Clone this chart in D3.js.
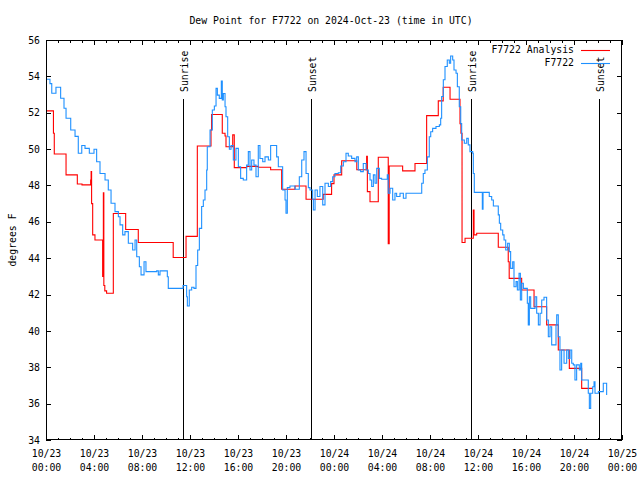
<!DOCTYPE html>
<html>
<head>
<meta charset="utf-8">
<script src="https://cdn.jsdelivr.net/npm/d3@7"></script>
<style>
html,body{margin:0;padding:0;background:#fff;}
svg{display:block;}
text{font-family:"DejaVu Sans Mono","Liberation Mono",monospace;font-size:9.8px;fill:#000;}
</style>
</head>
<body>
<svg id="chart" width="640" height="480"></svg>
<script>
// ---------- DATA ----------
const titleText = "Dew Point for F7722 on 2024-Oct-23 (time in UTC)";
const yLabel = "degrees F";
const seriesNames = ["F7722 Analysis", "F7722"];
const seriesColors = ["#ff0000", "#1e90ff"];
const yTicks = [34, 36, 38, 40, 42, 44, 46, 48, 50, 52, 54, 56];

// hours since 2024-10-23 00:00 UTC
const anaHours = [0.0, 0.62, 0.69, 1.67, 2.61, 3.0, 3.72, 3.76, 3.8, 3.89, 4.08, 4.72, 4.78, 4.82, 4.9, 5.05, 5.61, 6.64, 7.69, 10.6, 11.67, 12.61, 13.75, 13.8, 14.69, 14.92, 15.0, 15.56, 15.69, 16.72, 17.69, 18.72, 19.64, 20.75, 21.67, 23.1, 23.8, 24.0, 24.64, 25.9, 26.72, 26.78, 27.0, 27.69, 28.52, 28.6, 29.72, 30.75, 31.72, 32.69, 33.1, 33.67, 34.5, 34.58, 34.67, 34.92, 35.61, 35.67, 35.89, 37.69, 38.52, 38.6, 39.64, 40.67, 41.72, 42.69, 43.61, 44.64, 45.56];
const anaDew   = [52.1, 50.87, 49.73, 48.58, 48.08, 48.03, 48.3, 48.76, 47.0, 45.28, 45.0, 43.0, 47.6, 42.5, 42.2, 42.07, 46.46, 45.58, 44.86, 44.04, 45.2, 50.17, 51.05, 51.9, 50.87, 50.72, 50.13, 50.78, 48.98, 49.05, 49.0, 48.86, 47.79, 47.97, 47.24, 47.51, 48.1, 48.58, 49.36, 48.86, 49.6, 47.66, 47.1, 49.55, 44.8, 49.07, 48.8, 49.21, 51.84, 52.65, 53.4, 52.74, 51.4, 50.87, 44.86, 45.1, 46.65, 45.28, 45.37, 44.6, 43.8, 42.89, 42.25, 41.33, 40.33, 38.95, 37.94, 36.84, 36.84];

const obsHours = [0.0, 0.33, 0.48, 0.83, 1.22, 1.5, 1.67, 2.06, 2.42, 2.69, 2.98, 3.25, 3.61, 4.0, 4.22, 4.5, 4.92, 5.19, 5.42, 5.75, 6.03, 6.17, 6.39, 6.58, 6.86, 7.22, 7.42, 7.56, 7.78, 7.92, 8.17, 8.33, 9.22, 9.36, 9.5, 10.11, 10.19, 11.31, 11.42, 11.72, 11.78, 11.94, 12.14, 12.33, 12.5, 12.64, 12.78, 12.97, 13.11, 13.25, 13.39, 13.44, 13.67, 13.86, 14.03, 14.17, 14.28, 14.44, 14.61, 14.69, 14.78, 14.92, 15.0, 15.14, 15.28, 15.42, 15.61, 15.83, 16.03, 16.22, 16.44, 16.72, 16.86, 17.0, 17.14, 17.33, 17.5, 17.69, 17.83, 18.06, 18.25, 18.53, 18.72, 19.22, 19.36, 19.72, 19.92, 20.0, 20.11, 20.33, 20.75, 21.11, 21.31, 21.5, 21.67, 21.86, 22.0, 22.22, 22.28, 22.42, 22.61, 22.83, 23.06, 23.25, 23.53, 23.72, 23.89, 24.08, 24.36, 24.56, 24.78, 25.0, 25.19, 25.47, 25.75, 25.89, 26.03, 26.22, 26.44, 26.67, 26.86, 27.0, 27.14, 27.28, 27.42, 27.56, 27.78, 27.97, 28.44, 28.52, 28.67, 28.89, 29.08, 29.22, 29.5, 29.78, 30.0, 31.17, 31.31, 31.44, 31.58, 31.78, 31.94, 32.06, 32.22, 32.5, 32.78, 32.89, 32.97, 33.11, 33.25, 33.44, 33.61, 33.72, 33.89, 34.0, 34.17, 34.28, 34.44, 34.56, 34.64, 34.86, 35.06, 35.19, 35.33, 35.56, 35.61, 35.69, 36.33, 36.36, 36.42, 36.86, 36.94, 37.14, 37.28, 37.56, 37.69, 37.78, 37.89, 38.06, 38.17, 38.31, 38.47, 38.61, 38.72, 38.89, 39.0, 39.17, 39.28, 39.42, 39.53, 39.64, 39.78, 40.11, 40.19, 40.28, 40.39, 40.75, 40.89, 41.03, 41.17, 41.31, 41.5, 41.72, 41.86, 42.0, 42.14, 42.5, 42.56, 42.69, 42.83, 42.97, 43.17, 43.39, 43.53, 43.67, 43.81, 43.94, 44.08, 44.22, 44.44, 44.56, 44.64, 45.19, 45.28, 45.39, 45.56, 45.67, 45.75, 46.03, 46.44, 46.72];
const obsDew   = [53.84, 53.6, 53.07, 53.4, 52.8, 52.25, 51.7, 51.05, 50.7, 49.77, 50.2, 50.04, 49.77, 49.99, 49.3, 48.66, 48.3, 47.75, 47.02, 46.56, 46.28, 45.83, 45.28, 45.46, 44.82, 44.45, 45.0, 44.08, 43.53, 43.08, 43.8, 43.26, 43.3, 43.08, 43.3, 42.98, 42.34, 42.34, 42.5, 41.88, 41.37, 42.25, 42.4, 42.34, 43.6, 44.45, 45.64, 46.84, 47.2, 47.75, 48.85, 50.13, 51.05, 52.15, 52.37, 53.34, 52.97, 52.79, 53.74, 52.7, 53.06, 52.33, 51.78, 50.68, 49.99, 50.2, 49.4, 50.04, 49.03, 48.39, 48.3, 49.12, 49.86, 48.85, 49.4, 49.12, 48.48, 50.2, 49.48, 49.3, 49.57, 49.4, 50.2, 49.57, 49.03, 47.75, 47.2, 46.47, 47.88, 47.97, 47.79, 48.48, 49.4, 49.86, 48.66, 47.88, 47.75, 47.24, 46.65, 47.75, 47.39, 47.94, 46.93, 48.12, 47.94, 48.21, 48.48, 48.66, 48.7, 49.07, 49.3, 49.77, 49.62, 49.49, 49.3, 49.57, 48.85, 48.76, 49.21, 48.85, 48.66, 48.3, 47.94, 48.58, 48.12, 48.94, 48.39, 48.34, 48.58, 47.57, 47.85, 47.2, 47.57, 47.39, 47.57, 47.3, 47.57, 47.57, 48.12, 48.66, 48.85, 49.57, 50.68, 50.95, 51.14, 51.24, 51.33, 51.7, 52.89, 53.81, 54.54, 54.9, 54.72, 55.12, 54.9, 54.35, 54.17, 53.43, 52.33, 51.4, 50.5, 50.32, 50.59, 50.23, 49.86, 49.77, 48.66, 47.62, 47.62, 46.69, 47.62, 47.62, 47.39, 47.2, 46.87, 46.87, 46.38, 45.92, 45.55, 45.28, 45.0, 44.45, 44.82, 44.36, 43.44, 43.8, 42.43, 42.71, 42.25, 43.17, 41.7, 42.62, 42.34, 41.52, 40.33, 41.88, 41.24, 41.88, 40.97, 40.33, 40.97, 41.7, 41.85, 40.6, 39.68, 40.23, 39.23, 40.33, 40.88, 39.68, 37.85, 38.95, 38.22, 38.95, 38.49, 38.95, 38.22, 38.13, 37.3, 38.13, 37.85, 38.22, 37.3, 36.57, 35.74, 36.57, 36.93, 37.2, 36.57, 36.66, 37.12, 36.48];

const sunHours = [11.44, 22.12, 35.44, 46.12];
const sunLabels = ["Sunrise", "Sunset", "Sunrise", "Sunset"];

// ---------- CHART ----------
const t0 = Date.UTC(2024, 9, 23, 0, 0);
const toDate = h => new Date(t0 + h * 3600e3);
const L = 46, R = 622, T = 40, B = 440;

const svg = d3.select("#chart");
const x = d3.scaleUtc().domain([toDate(0), toDate(48)]).range([L, R]);
const y = d3.scaleLinear().domain([34, 56]).range([B, T]);

svg.append("text").attr("x", 331).attr("y", 24).attr("text-anchor", "middle").text(titleText);

svg.append("text")
  .attr("transform", `translate(13,${(T + B) / 2}) rotate(-90)`)
  .attr("text-anchor", "middle").attr("dominant-baseline", "middle")
  .text(yLabel);

function styleAxis(g) {
  g.select(".domain").remove();
  g.selectAll(".tick line").attr("stroke", "#000").attr("shape-rendering", "crispEdges");
}

// minor x ticks (hourly)
svg.append("g").attr("transform", `translate(0,${B})`)
  .call(d3.axisBottom(x).ticks(d3.utcHour.every(1)).tickSize(-2.5).tickFormat(""))
  .call(styleAxis);
svg.append("g").attr("transform", `translate(0,${T})`)
  .call(d3.axisTop(x).ticks(d3.utcHour.every(1)).tickSize(-2.5).tickFormat(""))
  .call(styleAxis);
// major x ticks
const xb = svg.append("g").attr("transform", `translate(0,${B})`)
  .call(d3.axisBottom(x).ticks(d3.utcHour.every(4)).tickSize(-5).tickFormat(""))
  .call(styleAxis);
xb.selectAll(".tick").each(function(d) {
  const t = d3.select(this).append("text").attr("text-anchor", "middle");
  t.append("tspan").attr("x", 0).attr("y", 17).text(d3.utcFormat("%m/%d")(d));
  t.append("tspan").attr("x", 0).attr("y", 31).text(d3.utcFormat("%H:%M")(d));
});
svg.append("g").attr("transform", `translate(0,${T})`)
  .call(d3.axisTop(x).ticks(d3.utcHour.every(4)).tickSize(-5).tickFormat(""))
  .call(styleAxis);

// y ticks
const yl = svg.append("g").attr("transform", `translate(${L},0)`)
  .call(d3.axisLeft(y).tickValues(yTicks).tickSize(-5).tickPadding(7).tickFormat(d3.format("d")))
  .call(styleAxis);
yl.selectAll(".tick text").attr("x", -6).attr("dy", "0.32em");
svg.append("g").attr("transform", `translate(${R},0)`)
  .call(d3.axisRight(y).tickValues(yTicks).tickSize(-5).tickFormat(""))
  .call(styleAxis);
xb.attr("font-family", null).attr("font-size", null);
yl.attr("font-family", null).attr("font-size", null);

// sunrise / sunset
const sun = svg.append("g");
sunHours.forEach((h, i) => {
  const sx = Math.round(x(toDate(h))) + 0.5;
  sun.append("line").attr("x1", sx).attr("x2", sx).attr("y1", 99).attr("y2", B)
    .attr("stroke", "#000").attr("stroke-width", 1);
  sun.append("text")
    .attr("transform", `translate(${sx + 1},92) rotate(-90)`)
    .attr("text-anchor", "start").attr("dominant-baseline", "middle")
    .text(sunLabels[i]);
});

// series lines
const line = d3.line().x(d => x(toDate(d[0]))).y(d => y(d[1])).curve(d3.curveStepAfter);
const anaData = anaHours.map((h, i) => [h, anaDew[i]]);
const obsData = obsHours.map((h, i) => [h, obsDew[i]]);

svg.append("path").datum(anaData).attr("d", line)
  .attr("fill", "none").attr("stroke", seriesColors[0]).attr("stroke-width", 1.1);
svg.append("path").datum(obsData).attr("d", line)
  .attr("fill", "none").attr("stroke", seriesColors[1]).attr("stroke-width", 1.1);

// border
svg.append("rect").attr("x", L + 0.5).attr("y", T + 0.5).attr("width", R - L - 1).attr("height", B - T - 1)
  .attr("fill", "none").attr("stroke", "#000").attr("stroke-width", 1);

// legend
const leg = svg.append("g");
seriesNames.forEach((n, i) => {
  const ly = 50 + i * 13;
  leg.append("text").attr("x", 574).attr("y", ly).attr("text-anchor", "end")
    .attr("dominant-baseline", "middle").text(n);
  leg.append("line").attr("x1", 581).attr("x2", 610).attr("y1", ly + 0.5).attr("y2", ly + 0.5)
    .attr("stroke", seriesColors[i]).attr("stroke-width", 1.1);
});
</script>
</body>
</html>
